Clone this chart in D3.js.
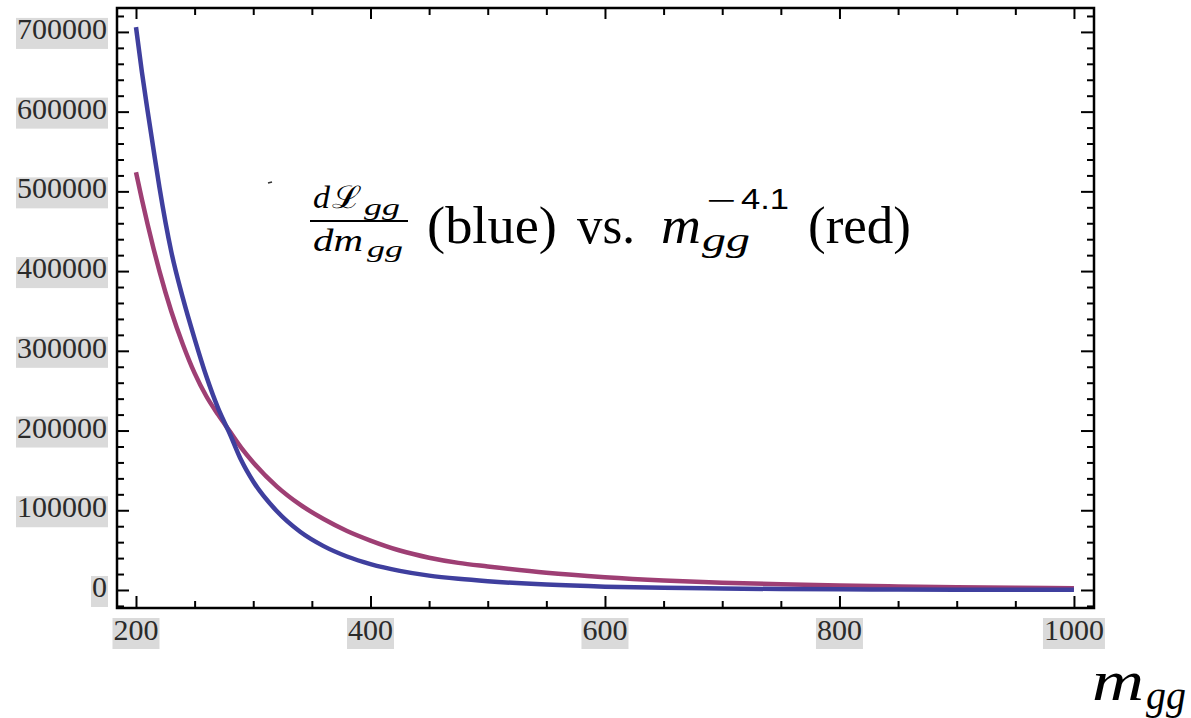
<!DOCTYPE html>
<html>
<head>
<meta charset="utf-8">
<script src="https://cdn.jsdelivr.net/npm/d3@7"></script>
<style>
  html, body { margin: 0; padding: 0; background: #ffffff; }
  svg { display: block; }
</style>
</head>
<body>
<svg id="chart" width="1191" height="718"></svg>
<script>
// Invariant mass of the gluon pair (GeV)
const massPoints = [200, 205, 210, 215, 220, 230, 240, 250, 260, 270, 280, 290, 300,
  320, 340, 360, 380, 400, 425, 450, 475, 500, 550, 600, 650, 700, 750, 800, 850, 900, 950, 1000];

// dL_gg / dm_gg (blue)
const luminosityValues = [706000, 650000, 600000, 552000, 505000, 425000, 366000, 315000,
  268000, 228000, 196000, 162000, 136000, 99000, 73000, 55000, 42000, 32500, 24000, 18000,
  14000, 11000, 6800, 4200, 2700, 1800, 1200, 800, 550, 380, 260, 180];

// m_gg^-4.1 comparison curve (red)
const powerLawValues = [524000, 490000, 458000, 428000, 400000, 350000, 308000, 272000,
  243000, 220000, 199000, 178000, 160000, 130000, 107000, 89000, 74000, 62000, 49500, 40500,
  34000, 29500, 21500, 16000, 12000, 9200, 7100, 5600, 4400, 3500, 2800, 2300];

const xTickValues = [200, 400, 600, 800, 1000];
const xTickLabels = ["200", "400", "600", "800", "1000"];
const yTickValues = [0, 100000, 200000, 300000, 400000, 500000, 600000, 700000];
const yTickLabels = ["0", "100000", "200000", "300000", "400000", "500000", "600000", "700000"];

const blueColor = "#3f3f9e";
const redColor = "#9e3f74";

const svg = d3.select("#chart");

const x = d3.scaleLinear().domain([183.8, 1017.1]).range([117, 1094]);
const y = d3.scaleLinear().domain([-22600, 730000]).range([608, 8]);

const [plotLeft, plotRight] = x.range();
const [plotBottom, plotTop] = y.range();

const xMinor = d3.range(200, 1001, 50).filter(v => !xTickValues.includes(v));
const yMinor = d3.range(-20000, 730001, 20000).filter(v => !yTickValues.includes(v));

// ---- tick labels with their grey highlight boxes ----
const labelFont = "'Liberation Serif', 'Times New Roman', serif";

const yLabels = svg.append("g").selectAll("g")
  .data(yTickValues.map((v, i) => ({ v, label: yTickLabels[i] })))
  .join("g")
  .attr("transform", d => `translate(${plotLeft - 10},${y(d.v)})`);
yLabels.append("text")
  .attr("x", 0).attr("y", 7)
  .attr("text-anchor", "end")
  .attr("font-family", labelFont)
  .attr("font-size", 30)
  .attr("fill", "#2a2a2a")
  .text(d => d.label);
yLabels.each(function () {
  const g = d3.select(this);
  const w = g.select("text").node().getComputedTextLength();
  g.insert("rect", "text")
    .attr("x", -w - 1).attr("y", -14)
    .attr("width", w + 2).attr("height", 31)
    .attr("fill", "#dadada");
});

const xLabels = svg.append("g").selectAll("g")
  .data(xTickValues.map((v, i) => ({ v, label: xTickLabels[i] })))
  .join("g")
  .attr("transform", d => `translate(${x(d.v)},${plotBottom})`);
xLabels.append("text")
  .attr("x", 0).attr("y", 32)
  .attr("text-anchor", "middle")
  .attr("font-family", labelFont)
  .attr("font-size", 30)
  .attr("fill", "#2a2a2a")
  .text(d => d.label);
xLabels.each(function () {
  const g = d3.select(this);
  const w = g.select("text").node().getComputedTextLength();
  g.insert("rect", "text")
    .attr("x", -w / 2 - 1).attr("y", 10)
    .attr("width", w + 2).attr("height", 31)
    .attr("fill", "#dadada");
});

// ---- curves ----
svg.append("clipPath").attr("id", "plot-clip")
  .append("rect")
  .attr("x", plotLeft).attr("y", plotTop)
  .attr("width", plotRight - plotLeft).attr("height", plotBottom - plotTop);

const line = d3.line()
  .x(d => x(d[0]))
  .y(d => y(d[1]))
  .curve(d3.curveMonotoneX);

const curves = svg.append("g").attr("clip-path", "url(#plot-clip)");
curves.append("path")
  .datum(massPoints.map((m, i) => [m, powerLawValues[i]]))
  .attr("d", line)
  .attr("fill", "none")
  .attr("stroke", redColor)
  .attr("stroke-width", 4.5)
  .attr("stroke-linejoin", "round");
curves.append("path")
  .datum(massPoints.map((m, i) => [m, luminosityValues[i]]))
  .attr("d", line)
  .attr("fill", "none")
  .attr("stroke", blueColor)
  .attr("stroke-width", 4.5)
  .attr("stroke-linejoin", "round");

// ---- frame ticks (pointing inward on all four sides) ----
function styleTicks(g) {
  g.select(".domain").remove();
  g.selectAll(".tick line").attr("stroke", "#000").attr("stroke-width", 2);
  g.selectAll(".tick text").remove();
}
svg.append("g").attr("transform", `translate(0,${plotBottom})`)
  .call(d3.axisBottom(x).tickValues(xTickValues).tickSize(-12)).call(styleTicks);
svg.append("g").attr("transform", `translate(0,${plotBottom})`)
  .call(d3.axisBottom(x).tickValues(xMinor).tickSize(-7)).call(styleTicks);
svg.append("g").attr("transform", `translate(0,${plotTop})`)
  .call(d3.axisTop(x).tickValues(xTickValues).tickSize(-11)).call(styleTicks);
svg.append("g").attr("transform", `translate(0,${plotTop})`)
  .call(d3.axisTop(x).tickValues(xMinor).tickSize(-7)).call(styleTicks);
svg.append("g").attr("transform", `translate(${plotLeft},0)`)
  .call(d3.axisLeft(y).tickValues(yTickValues).tickSize(-12)).call(styleTicks);
svg.append("g").attr("transform", `translate(${plotLeft},0)`)
  .call(d3.axisLeft(y).tickValues(yMinor).tickSize(-7)).call(styleTicks);
svg.append("g").attr("transform", `translate(${plotRight},0)`)
  .call(d3.axisRight(y).tickValues(yTickValues).tickSize(-13)).call(styleTicks);
svg.append("g").attr("transform", `translate(${plotRight},0)`)
  .call(d3.axisRight(y).tickValues(yMinor).tickSize(-7)).call(styleTicks);

svg.append("rect")
  .attr("x", plotLeft).attr("y", plotTop)
  .attr("width", plotRight - plotLeft).attr("height", plotBottom - plotTop)
  .attr("fill", "none")
  .attr("stroke", "#000")
  .attr("stroke-width", 2.5);

// ---- formula annotation ----
const mathFont = "'Liberation Serif', 'DejaVu Serif', serif";
const note = svg.append("g").attr("fill", "#000").attr("font-family", mathFont);

function piece(txt, px, py, size, width, italic, family) {
  const t = note.append("text")
    .attr("x", px).attr("y", py)
    .attr("font-size", size)
    .attr("font-style", italic ? "italic" : "normal")
    .text(txt);
  if (family) t.attr("font-family", family);
  if (width) t.attr("textLength", width).attr("lengthAdjust", "spacingAndGlyphs");
  return t;
}

// small stray stroke left of the formula
note.append("line").attr("x1", 268).attr("x2", 272).attr("y1", 183).attr("y2", 182)
  .attr("stroke", "#333").attr("stroke-width", 1.5);

// fraction dL_gg / dm_gg
piece("d", 313, 208, 31, 17, true);
piece("\u2112", 332, 208, 31, 30, false, "'DejaVu Serif', serif");
piece("gg", 364, 215, 24, 36, true);
note.append("line").attr("x1", 310).attr("x2", 408).attr("y1", 221).attr("y2", 221)
  .attr("stroke", "#000").attr("stroke-width", 2);
piece("dm", 313, 251, 32, 50, true);
piece("gg", 367, 257, 24, 36, true);

piece("(blue)", 427, 243, 52, 130, false);
piece("vs.", 577, 243, 52, 58, false);
piece("m", 661, 243, 52, 40, true);
piece("gg", 702, 251, 34, 48, true);
piece("\u2212", 706, 212, 34, 30, false);
piece("4.1", 741, 209, 30, 48, false, "'Liberation Sans', 'DejaVu Sans', sans-serif");
piece("(red)", 808, 243, 52, 103, false);

// ---- x axis title m_gg ----
const xTitle = svg.append("g").attr("fill", "#000").attr("font-family", mathFont);
xTitle.append("text")
  .attr("x", 1092).attr("y", 700)
  .attr("font-size", 58).attr("font-style", "italic")
  .attr("textLength", 52).attr("lengthAdjust", "spacingAndGlyphs")
  .text("m");
xTitle.append("text")
  .attr("x", 1146).attr("y", 709)
  .attr("font-size", 42).attr("font-style", "italic")
  .attr("textLength", 40).attr("lengthAdjust", "spacingAndGlyphs")
  .text("gg");
</script>
</body>
</html>
